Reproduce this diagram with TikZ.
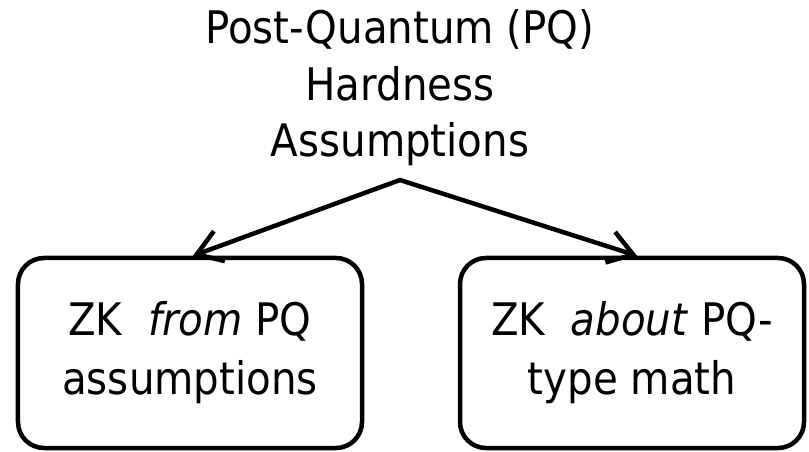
\documentclass[tikz,border=0pt]{standalone}
\usepackage{fontspec}
\setmainfont{DejaVu Sans Condensed}
\usetikzlibrary{arrows.meta}
\tikzset{
  stmt/.style={draw, line width=4.5bp, rounded corners=26bp, minimum width=344bp,
               minimum height=190bp, align=center, inner sep=0pt,
               font=\fontsize{45}{59}\selectfont},
  heading/.style={align=center, inner sep=0pt, font=\fontsize{45}{57}\selectfont},
  link/.style={line width=4.5bp, line join=miter,
               {Straight Barb[length=24bp, width=32bp]}-{Straight Barb[length=24bp, width=32bp]}}
}
\begin{document}
\begin{tikzpicture}[x=1bp, y=-1bp]
  \useasboundingbox (0,0) rectangle (809,452);
  % hardness assumptions at the top (base anchor sits on the last line)
  \node[heading, anchor=base] (title) at (400,157)
    {Post-Quantum (PQ)\\Hardness\\Assumptions};
  % the two kinds of zero-knowledge
  \node[stmt] (from) at (190,353) {ZK\ \ \emph{from} PQ\\assumptions};
  \node[stmt] (about) at (632,353) {ZK\ \ \emph{about} PQ-\\type math};
  % branching connectors
  \coordinate (apex) at (400,180);
  \draw[link] ([xshift=3bp]from.north) -- (apex) -- ([xshift=5bp]about.north);
\end{tikzpicture}
\end{document}
